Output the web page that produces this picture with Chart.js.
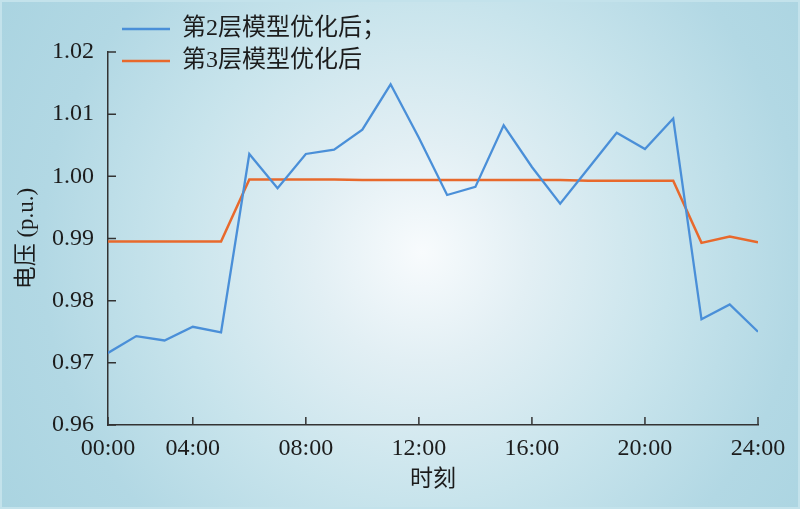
<!DOCTYPE html>
<html>
<head>
<meta charset="utf-8">
<script src="https://cdn.jsdelivr.net/npm/chart.js@4.4.1/dist/chart.umd.min.js"></script>
<style>
  html, body { margin: 0; padding: 0; }
  #wrap {
    width: 800px; height: 509px; position: relative; box-sizing: border-box;
    border: 2px solid #c3e2eb;
    background: radial-gradient(circle at 420px 250px, #f8fbfd 0px, #e2eff4 110px, #c8e4ec 250px, #b2d8e4 380px, #a8d3e0 520px);
  }
  #wrap canvas { position: absolute; left: -2px; top: -2px; }
</style>
</head>
<body>
<div id="wrap"><canvas id="voltage" width="800" height="509"></canvas></div>
<script>
// hours 1..24, first point sits on the 00:00 axis start
var hours = [1,2,3,4,5,6,7,8,9,10,11,12,13,14,15,16,17,18,19,20,21,22,23,24]
var layer2 = [0.9716,0.9743,0.9736,0.9758,0.9749,1.0036,0.9981,1.0036,1.0043,1.0075,1.0148,1.0062,
              0.9970,0.9983,1.0082,1.0015,0.9956,1.0013,1.0070,1.0044,1.0093,0.9770,0.9794,0.9750]
var layer3 = [0.9895,0.9895,0.9895,0.9895,0.9895,0.9995,0.9995,0.9995,0.9995,0.9994,0.9994,0.9994,
              0.9994,0.9994,0.9994,0.9994,0.9994,0.9993,0.9993,0.9993,0.9993,0.9893,0.9903,0.9894]
var xTickHours = [1,4,8,12,16,20,24]
var xTickLabels = ['00:00','04:00','08:00','12:00','16:00','20:00','24:00']
var yTicks = [0.96,0.97,0.98,0.99,1.00,1.01,1.02]

var FONT = '"Liberation Serif", "Noto Sans CJK SC", serif'
var TXT = '#1c1c1c'
var AXIS = '#333'

function pts(arr) {
  return arr.map(function(v, i) { return {x: hours[i], y: v} })
}

// small tick marks pointing into the plot, like the original
var innerTicks = {
  id: 'innerTicks',
  afterDatasetsDraw: function(chart) {
    var ctx = chart.ctx, area = chart.chartArea
    var xs = chart.scales.x, ys = chart.scales.y
    ctx.save()
    ctx.strokeStyle = AXIS
    ctx.lineWidth = 1.5
    ctx.beginPath()
    xs.ticks.forEach(function(t) {
      var px = xs.getPixelForValue(t.value)
      ctx.moveTo(px, area.bottom)
      ctx.lineTo(px, area.bottom - 8)
    })
    ys.ticks.forEach(function(t) {
      var py = ys.getPixelForValue(t.value)
      ctx.moveTo(area.left, py)
      ctx.lineTo(area.left + 8, py)
    })
    ctx.stroke()
    ctx.restore()
  }
}

// legend lives in the chart area box; nudge it up over the plot top
var legendSpot = {
  id: 'legendSpot',
  afterLayout: function(chart) {
    var lg = chart.legend
    var w = lg.right - lg.left, h = lg.bottom - lg.top
    lg.left = 114; lg.top = 9
    lg.right = lg.left + w; lg.bottom = lg.top + h
  }
}

new Chart(document.getElementById('voltage'), {
  type: 'line',
  data: {
    datasets: [{
      label: '第2层模型优化后；',
      data: pts(layer2),
      borderColor: '#4a8fd8',
      backgroundColor: '#4a8fd8',
      borderWidth: 2.3,
      pointRadius: 0,
      tension: 0
    }, {
      label: '第3层模型优化后',
      data: pts(layer3),
      borderColor: '#e8692c',
      backgroundColor: '#e8692c',
      borderWidth: 2.5,
      pointRadius: 0,
      tension: 0
    }]
  },
  options: {
    responsive: false,
    animation: false,
    layout: { padding: { top: 52, right: 42, left: 0, bottom: 0 } },
    plugins: {
      tooltip: { enabled: false },
      legend: {
        position: 'chartArea',
        align: 'start',
        labels: {
          usePointStyle: true,
          pointStyle: 'line',
          pointStyleWidth: 48,
          padding: 8,
          color: TXT,
          font: { family: FONT, size: 24 }
        }
      }
    },
    scales: {
      x: {
        type: 'linear',
        min: 1,
        max: 24,
        afterBuildTicks: function(scale) {
          scale.ticks = xTickHours.map(function(v) { return {value: v} })
        },
        afterFit: function(scale) { scale.height = 84 },
        grid: { display: false, drawTicks: false },
        border: { display: true, color: AXIS, width: 1.5 },
        ticks: {
          padding: 9,
          maxRotation: 0,
          autoSkip: false,
          color: TXT,
          font: { family: FONT, size: 24 },
          callback: function(v, i) { return xTickLabels[i] }
        },
        title: {
          display: true,
          text: '时刻',
          color: TXT,
          font: { family: FONT, size: 23 },
          padding: { top: 0, bottom: 15 }
        }
      },
      y: {
        min: 0.96,
        max: 1.02,
        afterBuildTicks: function(scale) {
          scale.ticks = yTicks.map(function(v) { return {value: v} })
        },
        afterFit: function(scale) { scale.width = 108 },
        grid: { display: false, drawTicks: false },
        border: { display: true, color: AXIS, width: 1.5 },
        ticks: {
          padding: 14,
          color: TXT,
          font: { family: FONT, size: 24 },
          callback: function(v) { return v.toFixed(2) }
        },
        title: {
          display: true,
          text: '电压 (p.u.)',
          color: TXT,
          font: { family: FONT, size: 23 },
          padding: { top: 13, bottom: 0 }
        }
      }
    }
  },
  plugins: [innerTicks, legendSpot]
})
</script>
</body>
</html>
